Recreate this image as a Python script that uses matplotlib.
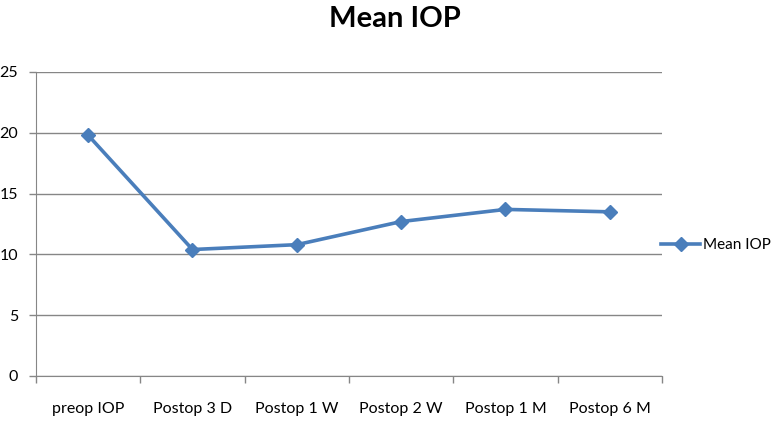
import matplotlib.pyplot as plt

# mean IOP over follow-up
categories = ['preop IOP', 'Postop 3 D', 'Postop 1 W', 'Postop 2 W', 'Postop 1 M', 'Postop 6 M']
mean_iop = [19.8, 10.4, 10.8, 12.7, 13.7, 13.5]
y_ticks = [0, 5, 10, 15, 20, 25]

plt.rcParams['font.family'] = ['Lato', 'DejaVu Sans']

fig = plt.figure(figsize=(7.79, 4.21), dpi=100)
ax = fig.add_axes([0.0462, 0.1069, 0.8036, 0.7221])

x_pos = [i for i, _ in enumerate(categories)]
line, = ax.plot(x_pos, mean_iop, color='#4A7EBB', linewidth=2.6, marker='D',
                markersize=7, label='Mean IOP', zorder=3)

ax.set_xlim(-0.5, len(categories) - 0.5)
ax.set_ylim(0, 25)
ax.set_yticks(y_ticks)
ax.set_xticks(x_pos)
ax.set_xticklabels(categories)
ax.set_xticks([i - 0.5 for i in range(len(categories) + 1)], minor=True)
ax.tick_params(axis='x', which='major', length=0, pad=19, labelsize=11.5)
ax.tick_params(axis='x', which='minor', length=5, color='#868686', width=1)
ax.tick_params(axis='y', length=5, color='#868686', width=1, labelsize=11.5, pad=8)

ax.grid(axis='y', color='#868686', linewidth=1)
for side in ['top', 'right']:
    ax.spines[side].set_visible(False)
for side in ['left', 'bottom']:
    ax.spines[side].set_color('#868686')

fig.text(0.507, 0.955, 'Mean IOP', ha='center', va='center', fontsize=21, fontweight='bold')

ax.legend(handles=[line], loc='center left', bbox_to_anchor=(0.998, 0.43), frameon=False,
          fontsize=11, handlelength=2.6, handletextpad=0.15, borderaxespad=0, borderpad=0)

plt.savefig('out.png', dpi=100)
plt.close()
